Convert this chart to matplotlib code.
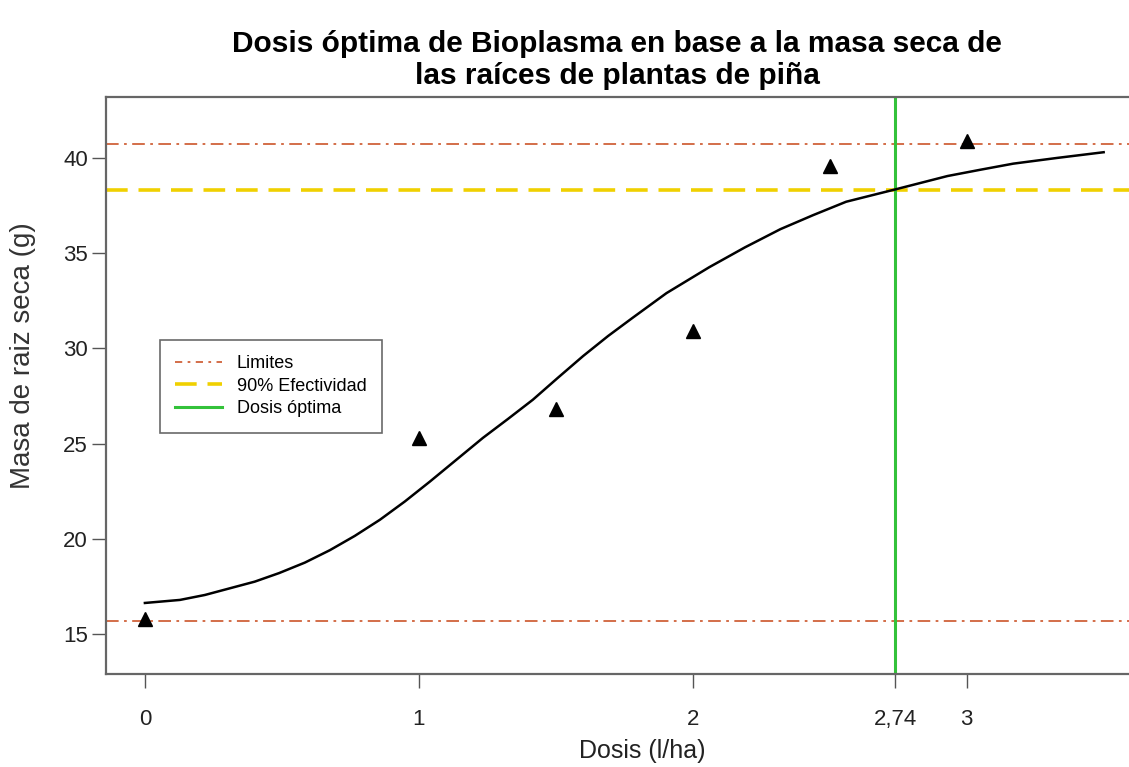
import matplotlib
matplotlib.use("Agg")
import matplotlib.pyplot as plt
from matplotlib.lines import Line2D

plt.rcParams['font.family'] = ['Liberation Sans', 'DejaVu Sans']

# Observed data
dosis = [0, 1, 1.5, 2, 2.5, 3]
masa = [15.8, 25.3, 26.8, 30.9, 39.6, 40.9]

# Fitted curve
curve_x = [0.0, 0.128, 0.219, 0.31, 0.401, 0.49, 0.584, 0.675, 0.766, 0.858,
           0.949, 1.04, 1.234, 1.326, 1.416, 1.508, 1.60, 1.691, 1.78, 1.904,
           2.06, 2.19, 2.32, 2.44, 2.56, 2.74, 2.93, 3.05, 3.17, 3.33, 3.50]
curve_y = [16.63, 16.79, 17.05, 17.4, 17.75, 18.2, 18.75, 19.4, 20.15, 21.0,
           21.96, 23.0, 25.3, 26.3, 27.3, 28.46, 29.6, 30.65, 31.6, 32.9,
           34.26, 35.3, 36.26, 37.0, 37.7, 38.35, 39.05, 39.38, 39.7, 40.0, 40.3]

lim_inf = 15.7
lim_sup = 40.75
efect90 = 38.3
dosis_opt = 2.74

xticks = [0, 1, 2, 2.74, 3]
xticklabels = ["0", "1", "2", "2,74", "3"]
yticks = [15, 20, 25, 30, 35, 40]

W, H = 1129, 767
fig = plt.figure(figsize=(W / 100, H / 100), dpi=100)
ax = fig.add_axes([106/W, 1 - 674/H, (1142 - 106)/W, (674 - 97)/H])

c_lim = "#D0623A"
c_90 = "#F0D000"
c_opt = "#33C23A"

ax.axhline(lim_inf, color=c_lim, lw=1.3, dashes=(7, 3, 1.5, 3))
ax.axhline(lim_sup, color=c_lim, lw=1.3, dashes=(7, 3, 1.5, 3))
ax.axhline(efect90, color=c_90, lw=2.6, dashes=(6, 3))
ax.axvline(dosis_opt, color=c_opt, lw=2.2)
ax.plot(curve_x, curve_y, color="black", lw=1.8, zorder=4, solid_joinstyle="round")
ax.plot(dosis, masa, linestyle="none", marker="^", color="black", markersize=10, zorder=5)

ax.set_xlim(-0.142, 3.64)
ax.set_ylim(12.9, 43.2)
ax.set_xticks(xticks)
ax.set_xticklabels(xticklabels)
ax.set_yticks(yticks)

for s in ["left", "bottom", "top", "right"]:
    ax.spines[s].set_color("#666666")
    ax.spines[s].set_linewidth(1.6)
ax.tick_params(axis="both", direction="out", length=10, width=1.0, color="#555555",
               labelsize=16, labelcolor="#222222")
ax.tick_params(axis="x", pad=15)
ax.tick_params(axis="y", pad=3)

fig.text(642/W, 1 - 758/H, "Dosis (l/ha)", ha="center", va="baseline",
         fontsize=18, color="#222222")
fig.text(23/W, 1 - 356/H, "Masa de raiz seca (g)", ha="center", va="center",
         rotation=90, fontsize=20, color="#333333")

fig.text(617/W, 1 - 52/H, "Dosis óptima de Bioplasma en base a la masa seca de",
         ha="center", va="baseline", fontsize=21.5, fontweight="bold")
fig.text(617/W, 1 - 84/H, "las raíces de plantas de piña",
         ha="center", va="baseline", fontsize=21.5, fontweight="bold")

handles = [Line2D([], [], color=c_lim, lw=1.3, dashes=(4, 3, 1.5, 3)),
           Line2D([], [], color=c_90, lw=2.6, dashes=(6, 3)),
           Line2D([], [], color=c_opt, lw=2.2)]
leg = ax.legend(handles, ["Limites", "90% Efectividad", "Dosis óptima"],
                loc="upper left", bbox_to_anchor=((160 - 106)/1036, 1 - (340 - 97)/577),
                fontsize=13, frameon=True, fancybox=False, handlelength=2.6,
                borderpad=0.85, labelspacing=0.3, borderaxespad=0)
leg.get_frame().set_edgecolor("#444444")
leg.get_frame().set_linewidth(1.2)

fig.savefig("out.png", dpi=100)
